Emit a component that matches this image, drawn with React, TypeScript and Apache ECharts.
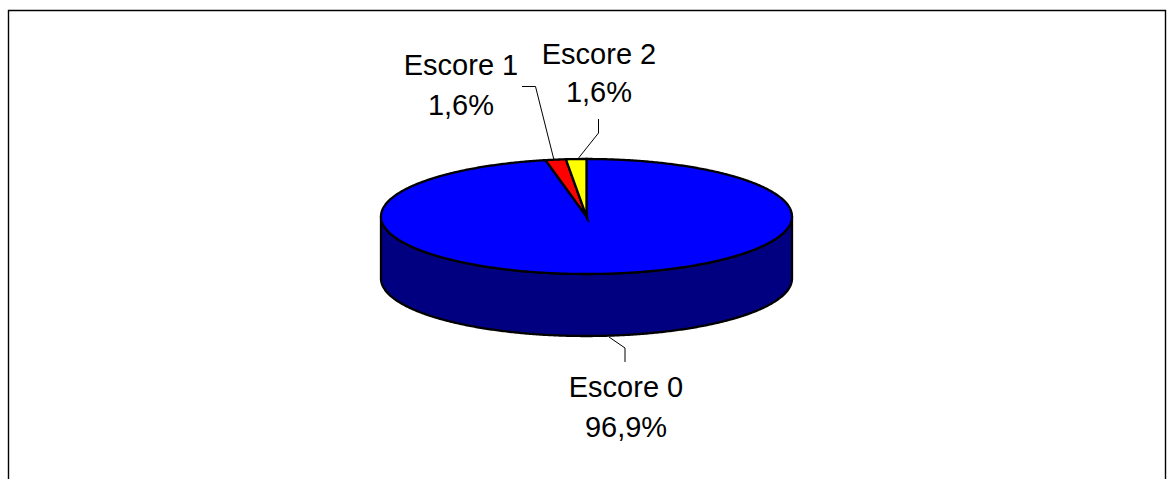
import React, { useEffect, useRef } from "react";
import * as echarts from "echarts";

// Score distribution, in percent
const categories = ["Escore 0", "Escore 1", "Escore 2"];
const shares = [96.9, 1.6, 1.6];
const topColors = ["#0000FF", "#FF0000", "#FFFF00"];
const wallColors = ["#000080", "#800000", "#808000"];

// Ellipse geometry of the tilted disc
const CX = 586.5;
const CY = 216.5;
const RX = 205.5;
const RY = 57.5;
const DEPTH = 62;

// Callout placement per category: text centre, first and second line y, leader points
const labelX = [626, 461, 599];
const labelY = [
  [387, 427],
  [65, 105],
  [54, 92],
];
const leaders = [
  [[609, 337], [625, 348], [625, 362]],
  [[522, 86.5], [535.5, 86.5], [554, 160]],
  [[598.5, 119], [598.5, 133], [577, 160]],
];

const FONT = '"Liberation Sans", Arial, sans-serif';
const total = shares.reduce((a, b) => a + b, 0);

// Angles run clockwise from twelve o'clock, in degrees
const rimPoint = (deg: number, dy = 0) => {
  const r = (deg * Math.PI) / 180;
  return [CX + RX * Math.sin(r), CY - RY * Math.cos(r) + dy];
};

const arcPoints = (from: number, to: number, dy = 0) => {
  const pts: number[][] = [];
  const steps = Math.max(2, Math.ceil((to - from) * 2));
  for (let i = 0; i <= steps; i++) pts.push(rimPoint(from + ((to - from) * i) / steps, dy));
  return pts;
};

const renderSlice = (params: any, api: any) => {
  const i = params.dataIndex;
  const before = shares.slice(0, i).reduce((a, b) => a + b, 0);
  const start = (before / total) * 360;
  const end = start + (Number(api.value(1)) / total) * 360;
  const children: any[] = [];

  // The front wall only shows for the part of the rim in the lower half
  const wallFrom = Math.max(start, 90);
  const wallTo = Math.min(end, 270);
  if (wallTo > wallFrom) {
    children.push({
      type: "polygon",
      shape: { points: [...arcPoints(wallFrom, wallTo), ...arcPoints(wallFrom, wallTo, DEPTH).reverse()] },
      style: { fill: wallColors[i], stroke: "#000", lineWidth: 2.3, lineJoin: "round" },
    });
  }

  children.push({
    type: "polygon",
    shape: { points: [[CX, CY], ...arcPoints(start, end)] },
    style: { fill: topColors[i], stroke: "#000", lineWidth: 2.3, lineJoin: "miter", miterLimit: 12 },
  });

  children.push({
    type: "polyline",
    shape: { points: leaders[i] },
    style: { fill: "none", stroke: "#000", lineWidth: 1 },
  });

  const pct = shares[i].toFixed(1).replace(".", ",") + "%";
  [categories[i], pct].forEach((text, line) => {
    children.push({
      type: "text",
      style: {
        text,
        x: labelX[i],
        y: labelY[i][line],
        align: "center",
        verticalAlign: "middle",
        font: `29px ${FONT}`,
        fill: "#000",
      },
    });
  });

  return { type: "group", children };
};

export default function App() {
  const ref = useRef<HTMLDivElement>(null);

  useEffect(() => {
    const chart = echarts.init(ref.current!, null, { renderer: "svg" });
    chart.setOption({
      animation: false,
      backgroundColor: "#fff",
      graphic: [
        {
          type: "polyline",
          shape: { points: [[8.5, 479], [8.5, 10.5], [1165.5, 10.5], [1165.5, 479]] },
          style: { fill: "none", stroke: "#000", lineWidth: 1.4 },
        },
      ],
      series: [
        {
          type: "custom",
          coordinateSystem: "none",
          renderItem: renderSlice,
          data: categories.map((name, i) => ({ name, value: [i, shares[i]] })),
          encode: { value: 1 },
        },
      ],
    });
    return () => chart.dispose();
  }, []);

  return <div ref={ref} style={{ position: "absolute", left: 0, top: 0, width: 1172, height: 479 }} />;
}
